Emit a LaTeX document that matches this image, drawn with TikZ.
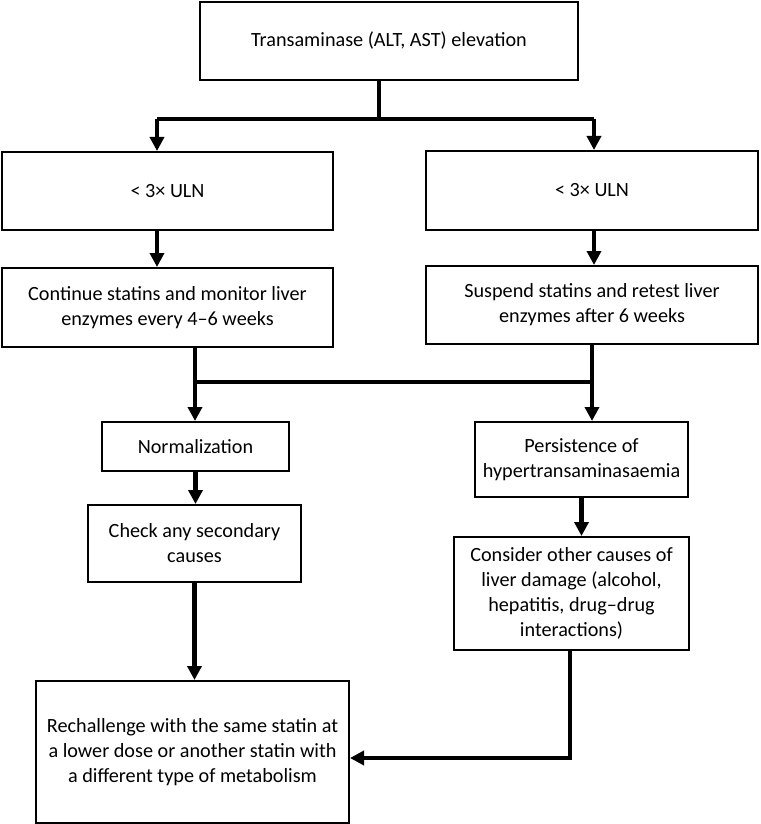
\documentclass[tikz,border=0pt]{standalone}
\usepackage{fontspec}
\setmainfont{Carlito}
\usepackage{tikz}
\usetikzlibrary{arrows.meta}

\tikzset{
    box/.style={draw, line width=1pt, align=center, inner sep=2pt},
    link/.style={line width=2.2pt},
    arr/.style={link, -{Triangle[length=7pt,width=7pt]}},
}

\begin{document}
\begin{tikzpicture}[x=0.5pt, y=-0.5pt, font=\fontsize{10.1}{12.5}\selectfont]
        \useasboundingbox (0,0) rectangle (760,824);

        % elevation
        \node [box,
            minimum width=189pt,
            minimum height=39pt,
        ] (elev) at (389,41){Transaminase (ALT, AST) elevation};

        % left branch
        \node [box,
            minimum width=165.5pt,
            minimum height=39pt,
        ] (lowl) at (167.5,191){< 3× ULN};

        \node [box,
            minimum width=165.5pt,
            minimum height=39.5pt,
        ] (cont) at (167.5,307.5){Continue statins and monitor liver\\enzymes every 4–6 weeks};

        % right branch
        \node [box,
            minimum width=166pt,
            minimum height=39.5pt,
        ] (lowr) at (592,190.5){< 3× ULN};

        \node [box,
            minimum width=166pt,
            minimum height=39pt,
        ] (susp) at (592,305){Suspend statins and retest liver\\enzymes after 6 weeks};

        % outcomes
        \node [box,
            minimum width=93.5pt,
            minimum height=24.5pt,
        ] (norm) at (195.5,446.5){Normalization};

        \node [box,
            minimum width=106.5pt,
            minimum height=37.5pt,
        ] (pers) at (581.5,459.5){Persistence of\\hypertransaminasaemia};

        \node [box,
            minimum width=106.5pt,
            minimum height=38.5pt,
        ] (check) at (194.5,543.5){Check any secondary\\causes};

        \node [box,
            minimum width=117.5pt,
            minimum height=56.5pt,
        ] (cons) at (571.5,593.5){Consider other causes of\\liver damage (alcohol,\\hepatitis, drug–drug\\interactions)};

        % rechallenge
        \node [box,
            minimum width=156.5pt,
            minimum height=71pt,
        ] (rech) at (192.5,752){Rechallenge with the same statin at\\a lower dose or another statin with\\a different type of metabolism};

        % split after elevation
        \coordinate (j1) at (379,119);
        \coordinate (j1l) at (157,119);
        \coordinate (j1r) at (594,119);
        \draw[link] (j1 |- elev.south) -- (j1);
        \draw[link] (j1l) -- (j1r);
        \draw[arr] (j1l) -- (j1l |- lowl.north);
        \draw[arr] (j1r) -- (j1r |- lowr.north);
        \draw[arr] (j1l |- lowl.south) -- (j1l |- cont.north);
        \draw[arr] (j1r |- lowr.south) -- (j1r |- susp.north);

        % join before outcomes
        \coordinate (j2l) at (195,382);
        \coordinate (j2r) at (592,382);
        \draw[link] (j2l |- cont.south) -- (j2l);
        \draw[link] (j2r |- susp.south) -- (j2r);
        \draw[link] (j2l) -- (j2r);
        \draw[arr] (j2l) -- (j2l |- norm.north);
        \draw[arr] (j2r) -- (j2r |- pers.north);

        \draw[arr] (norm.south) -- (norm.south |- check.north);
        \draw[arr] (pers.south) -- (pers.south |- cons.north);
        \draw[arr] (check.south) -- (check.south |- rech.north);
        \draw[arr] ([xshift=-0.75pt]cons.south) |- ([yshift=-3pt]rech.east);
\end{tikzpicture}
\end{document}
